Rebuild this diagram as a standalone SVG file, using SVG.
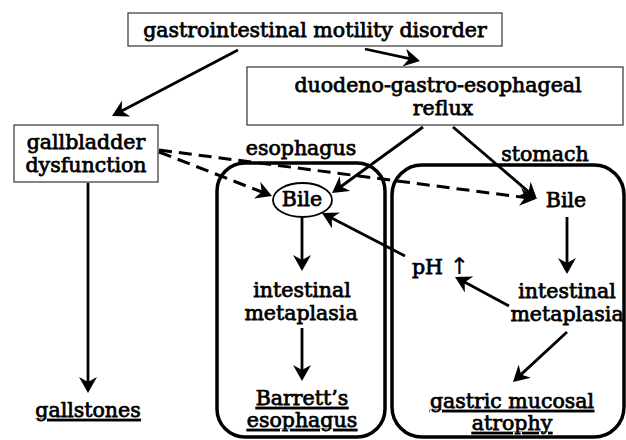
<svg xmlns="http://www.w3.org/2000/svg" width="626" height="440" viewBox="0 0 626 440">
<defs>
<marker id="ah" viewBox="0 0 16 18" markerWidth="16" markerHeight="18" refX="10" refY="9" orient="auto" markerUnits="userSpaceOnUse">
<path d="M0,0 L16,9 L0,18 L5,9 Z" fill="#000"/>
</marker>
<style>
text{font-family:"DejaVu Serif","Liberation Serif",serif;font-size:20.5px;fill:#000;stroke:#000;stroke-width:0.75px;text-anchor:middle}
.u{text-decoration:underline}
.box{fill:#fff;stroke:#333;stroke-width:1.2}
.cont{fill:none;stroke:#000;stroke-width:3.5}
.ar{fill:none;stroke:#000;stroke-width:2.8;marker-end:url(#ah)}
.da{fill:none;stroke:#000;stroke-width:3;stroke-dasharray:13 7;marker-end:url(#ah)}
.arr{font-family:"DejaVu Sans",sans-serif;stroke-width:0.2px;font-size:23px}
</style>
</defs>
<rect width="626" height="440" fill="#fff"/>
<g id="esophagus-region">
<rect class="cont" x="217" y="163" width="168" height="274" rx="28"/>
<text x="301" y="155">esophagus</text>
</g>
<g id="stomach-region">
<rect class="cont" x="392" y="165" width="232" height="272" rx="30"/>
<text x="545" y="161">stomach</text>
</g>
<g id="gi-motility">
<rect class="box" x="128" y="13" width="374" height="33"/>
<text x="315" y="37">gastrointestinal motility disorder</text>
</g>
<g id="reflux">
<rect class="box" x="247" y="67" width="376" height="58"/>
<text x="438" y="92">duodeno-gastro-esophageal</text>
<text x="443" y="115">reflux</text>
</g>
<g id="gallbladder">
<rect class="box" x="14" y="125" width="144" height="57"/>
<text x="86" y="149">gallbladder</text>
<text x="86" y="172">dysfunction</text>
</g>
<g id="gallstones">
<text class="u" x="88" y="417">gallstones</text>
</g>
<g id="eso-bile">
<ellipse cx="302.5" cy="200" rx="29.5" ry="17" fill="#fff" stroke="#000" stroke-width="1.8"/>
<text x="302" y="206">Bile</text>
</g>
<g id="eso-metaplasia">
<text x="302" y="297">intestinal</text>
<text x="301" y="320">metaplasia</text>
</g>
<g id="barretts">
<text class="u" x="302" y="405">Barrett’s</text>
<text class="u" x="302" y="427">esophagus</text>
</g>
<g id="sto-bile">
<text x="566" y="207">Bile</text>
</g>
<g id="ph">
<text x="412" y="274" style="text-anchor:start">pH <tspan class="arr">↑</tspan></text>
</g>
<g id="sto-metaplasia">
<text x="567" y="298">intestinal</text>
<text x="567" y="321">metaplasia</text>
</g>
<g id="atrophy">
<text class="u" x="512" y="408">gastric mucosal</text>
<text class="u" x="512" y="430">atrophy</text>
</g>
<g id="connectors">
<line class="ar" x1="365" y1="49" x2="414.1" y2="59.7"/>
<line class="ar" x1="238" y1="50" x2="117.3" y2="113.2"/>
<line class="ar" x1="88" y1="183" x2="88" y2="387"/>
<line class="da" x1="159" y1="152" x2="266.4" y2="193.8"/>
<line class="da" x1="159" y1="150" x2="530" y2="198.2"/>
<line class="ar" x1="423" y1="127" x2="336.9" y2="189.5"/>
<line class="ar" x1="453" y1="127" x2="532.4" y2="195.1"/>
<line class="ar" x1="302" y1="218" x2="302" y2="265"/>
<line class="ar" x1="302" y1="328" x2="302" y2="375"/>
<line class="ar" x1="567" y1="217" x2="567" y2="268"/>
<line class="ar" x1="509" y1="306" x2="460.3" y2="279.8"/>
<line class="ar" x1="405" y1="256" x2="327.3" y2="215.8"/>
<line class="ar" x1="567" y1="332" x2="517.4" y2="377.9"/>
</g>
</svg>
